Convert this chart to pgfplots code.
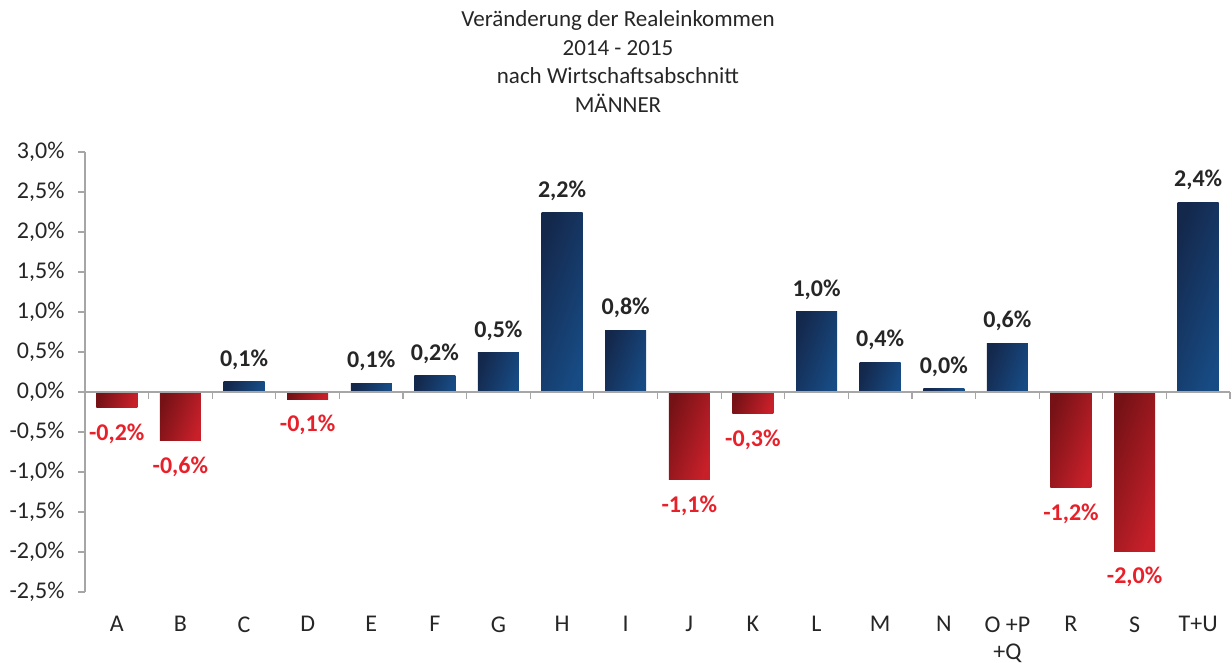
\documentclass[border=0pt]{standalone}
\usepackage{pgfplots}
\pgfplotsset{compat=1.18}
\usepackage{fontspec}
\setmainfont{Carlito}
\definecolor{tc}{HTML}{262626}
\definecolor{axg}{HTML}{A6A6A6}
\definecolor{bluL}{HTML}{14284C}
\definecolor{bluR}{HTML}{174B84}
\definecolor{redL}{HTML}{761216}
\definecolor{redR}{HTML}{C8202A}
\definecolor{lred}{HTML}{E8202A}

\pgfplotsset{
  posbar/.style={draw=none, left color=bluL, right color=bluR, shading angle=70,
    nodes near coords style={text=tc, anchor=south, yshift=7pt}},
  negbar/.style={draw=none, left color=redL, right color=redR, shading angle=70,
    nodes near coords style={text=lred, anchor=north, yshift=-11pt}},
}

\begin{document}
\begin{tikzpicture}
\path[use as bounding box] (0pt,0pt) rectangle (1232pt,663pt);
\begin{scope}[every node/.style={anchor=base, text=tc, font=\fontsize{23}{27}\selectfont}]
\node at (618pt,636pt) {Veränderung der Realeinkommen};
\node at (618pt,607pt) {2014 - 2015};
\node at (618pt,579pt) {nach Wirtschaftsabschnitt};
\node at (618pt,550pt) {MÄNNER};
\end{scope}
\begin{axis}[
  at={(85pt,71pt)}, anchor=south west,
  scale only axis, width=1145pt, height=440pt,
  xmin=-0.5, xmax=17.5, ymin=-2.5, ymax=3.0,
  clip=false,
  axis y line*=left, axis x line*=bottom,
  x axis line style={draw=none},
  y axis line style={axg, line width=1.2pt},
  xtick={0,...,17},
  xticklabels={A,B,C,D,E,F,G,H,I,J,K,L,M,N,{O +P\\+Q},R,S,T+U},
  major x tick style={draw=none},
  ytick={-2.5,-2,...,3},
  tick align=outside,
  major tick length=7pt,
  y tick style={axg, line width=1.2pt},
  ticklabel style={font=\fontsize{24}{28}\selectfont, text=tc},
  xticklabel style={font=\fontsize{24}{27}\selectfont, align=center, anchor=north, yshift=-14pt},
  yticklabel style={xshift=-10pt, /pgf/number format/.cd, fixed, fixed zerofill, precision=1, use comma, assume math mode=true},
  yticklabel={\pgfmathprintnumber{\tick}\%},
  ybar, bar width=41pt, bar shift=0pt,
  point meta=explicit symbolic,
  nodes near coords={\pgfplotspointmeta\%},
  nodes near coords style={font=\fontsize{24}{28}\selectfont\bfseries, inner sep=5pt},
]
\addplot[negbar] coordinates {(0,-0.20) [-0,2]};
\addplot[negbar] coordinates {(1,-0.61) [-0,6]};
\addplot[posbar] coordinates {(2,0.13) [0,1]};
\addplot[negbar] coordinates {(3,-0.09) [-0,1]};
\addplot[posbar] coordinates {(4,0.11) [0,1]};
\addplot[posbar] coordinates {(5,0.20) [0,2]};
\addplot[posbar] coordinates {(6,0.49) [0,5]};
\addplot[posbar] coordinates {(7,2.24) [2,2]};
\addplot[posbar] coordinates {(8,0.77) [0,8]};
\addplot[negbar] coordinates {(9,-1.10) [-1,1]};
\addplot[negbar] coordinates {(10,-0.27) [-0,3]};
\addplot[posbar] coordinates {(11,1.00) [1,0]};
\addplot[posbar] coordinates {(12,0.37) [0,4]};
\addplot[posbar] coordinates {(13,0.04) [0,0]};
\addplot[posbar] coordinates {(14,0.61) [0,6]};
\addplot[negbar] coordinates {(15,-1.20) [-1,2]};
\addplot[negbar] coordinates {(16,-1.99) [-2,0]};
\addplot[posbar] coordinates {(17,2.37) [2,4]};
\draw[axg, line width=1.2pt] (axis cs:-0.5,0) -- (axis cs:17.5,0);
\pgfplotsinvokeforeach{0.5,1.5,2.5,3.5,4.5,5.5,6.5,7.5,8.5,9.5,10.5,11.5,12.5,13.5,14.5,15.5,16.5,17.5}{
  \draw[axg, line width=1.2pt] (axis cs:#1,0) -- ++(0pt,-7pt);
}
\end{axis}
\end{tikzpicture}
\end{document}
